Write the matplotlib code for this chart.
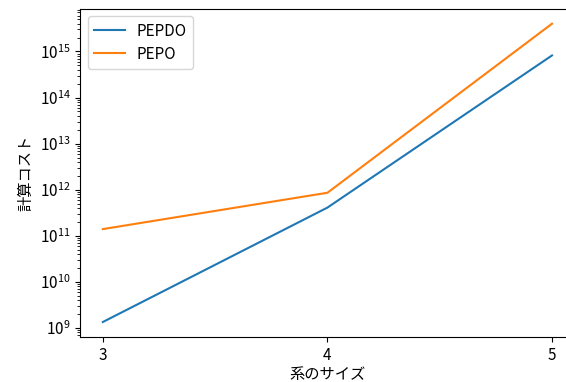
import matplotlib
matplotlib.use("Agg")
import matplotlib.pyplot as plt

plt.rcParams['font.family'] = ['Noto Sans CJK JP', 'DejaVu Sans']
plt.rcParams['font.size'] = 11

sizes = [3, 4, 5]
pepdo_cost = [1.35e9, 4.1e11, 8.2e14]
pepo_cost = [1.4e11, 8.6e11, 4.0e15]

fig, ax = plt.subplots(figsize=(5.66, 3.82), dpi=100)
fig.subplots_adjust(left=0.142, right=1.015, top=0.977, bottom=0.118)

ax.plot(sizes, pepdo_cost, label="PEPDO")
ax.plot(sizes, pepo_cost, label="PEPO")
ax.set_yscale("log")
ax.set_xticks(sizes)
ax.set_xlabel("系のサイズ", labelpad=2)
ax.set_ylabel("計算コスト")
ax.legend(loc="upper left", fontsize=11, labelspacing=0.4)

plt.savefig("out.png")
